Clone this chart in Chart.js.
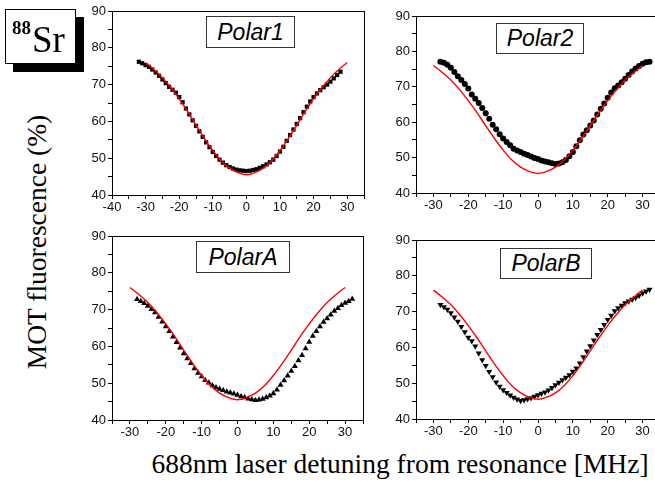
<!DOCTYPE html>
<html>
<head>
<meta charset="utf-8">
<script src="https://cdn.jsdelivr.net/npm/chart.js@4.4.0/dist/chart.umd.min.js"></script>
<style>
  html, body { margin:0; padding:0; background:#fff; }
  body { width:655px; height:484px; overflow:hidden; position:relative; }
  .cw { position:absolute; }
  canvas { display:block; }
  .lbl { position:absolute; border:1px solid #333; background:#fff; box-sizing:border-box;
         font-family:"Liberation Sans", Arial, sans-serif; font-style:italic; font-size:23px;
         color:#000; text-align:center; line-height:29px; }
  #sr { position:absolute; left:5px; top:9px; width:71px; height:55px; box-sizing:border-box;
        border:1px solid #000; background:#fff; box-shadow:8px 8px 0 #000;
        font-family:"Liberation Serif", "Times New Roman", serif; color:#000; }
  #sr .sup { position:absolute; left:6px; top:8px; font-size:19px; font-weight:bold; line-height:19px; }
  #sr .el { position:absolute; left:26px; top:10px; font-size:37px; line-height:40px; }
  #ytitle { position:absolute; left:37px; top:242px; transform:translate(-50%,-50%) rotate(-90deg);
            white-space:nowrap; font-family:"Liberation Serif", "Times New Roman", serif; font-size:27.5px; color:#000; }
  #xtitle { position:absolute; left:400px; top:449px; transform:translateX(-50%);
            white-space:nowrap; font-family:"Liberation Serif", "Times New Roman", serif; font-size:27.5px; color:#000; line-height:30px; }
</style>
</head>
<body>
<script>
// ---------------- data ----------------
const detuning1 = [-32,-31,-30,-29,-28,-27,-26,-25,-24,-23,-22,-21,-20,-19,-18,-17,-16,-15,-14,-13,-12,-11,-10,-9,-8,-7,-6,-5,-4,-3,-2,-1,0,1,2,3,4,5,6,7,8,9,10,11,12,13,14,15,16,17,18,19,20,21,22,23,24,25,26,27,28];
const polar1 = [76.2,75.8,75.3,74.8,74.1,73.3,72.4,71.4,70.4,69.4,68.6,67.8,66.6,65.2,63.5,61.9,60.3,58.8,57.3,55.8,54.3,53.0,51.7,50.6,49.6,48.8,48.1,47.6,47.2,46.9,46.7,46.6,46.5,46.6,46.8,47.0,47.4,47.8,48.3,48.9,49.6,50.6,51.8,53.1,54.7,56.3,57.8,59.3,60.9,62.5,64.0,65.4,66.6,67.6,68.5,69.3,70.0,70.8,71.7,72.6,73.5];

const detuning2 = [-28,-27,-26,-25,-24,-23,-22,-21,-20,-19,-18,-17,-16,-15,-14,-13,-12,-11,-10,-9,-8,-7,-6,-5,-4,-3,-2,-1,0,1,2,3,4,5,6,7,8,9,10,11,12,13,14,15,16,17,18,19,20,21,22,23,24,25,26,27,28,29,30,31,32];
const polar2 = [77.1,76.8,76.2,75.4,74.2,73.0,71.9,70.8,69.5,67.8,66.6,65.4,64.0,62.5,61.0,59.3,58.0,56.6,55.4,54.4,53.5,52.5,52.0,51.6,51.1,50.7,50.3,49.9,49.6,49.2,48.9,48.7,48.4,48.2,48.3,48.7,49.3,50.4,51.6,53.2,54.9,56.5,57.7,59.1,60.5,62.2,63.8,65.3,66.9,68.4,69.6,70.4,71.3,72.3,73.3,74.3,75.2,75.9,76.5,76.9,77.1];
const polarA = [72.8,72.3,71.7,71.0,70.1,69.2,68.0,66.7,65.4,64.1,62.6,61.1,59.6,58.1,56.7,55.4,54.0,52.8,51.8,50.8,50.1,49.4,48.8,48.4,48.1,47.7,47.4,47.1,46.8,46.4,46.1,45.8,45.6,45.4,45.5,45.7,46.1,46.6,47.2,48.2,49.5,50.7,52.0,53.3,54.6,56.2,57.6,59.4,61.2,62.8,64.1,65.4,66.6,67.6,68.6,69.6,70.4,71.2,71.8,72.3,72.9];
const polarB = [71.9,71.3,70.6,69.6,68.4,67.2,65.8,64.3,62.8,61.8,60.3,58.4,56.5,54.9,53.2,51.7,50.3,49.1,48.1,47.3,46.6,46.0,45.5,45.1,45.3,45.6,45.9,46.3,46.7,47.1,47.5,48.0,48.7,49.5,50.2,50.9,51.6,52.3,53.3,54.2,55.6,57.3,58.9,60.4,62.0,63.5,64.9,66.3,67.7,68.9,70.2,71.0,71.7,72.4,72.9,73.4,73.9,74.5,75.1,75.7,76.2];

// fitted curve (same in every panel)
const fitX = [-30,-27.5,-25,-22.5,-20,-17.5,-15,-12.5,-10,-7.5,-5,-2.5,0,2.5,5,7.5,10,12.5,15,17.5,20,22.5,25,27.5,30];
const fitY = [76.0,74.1,71.9,69.2,66.1,62.7,59.0,55.4,52.1,49.3,47.3,46.1,45.5,46.1,47.3,49.3,52.1,55.4,59.0,62.7,66.1,69.2,71.9,74.1,76.0];

const xTicksStep = 5;
const yMin = 40, yMax = 90;

// ---------------- drawing ----------------
function pts(xs, ys) { return xs.map((x, i) => ({ x: x, y: ys[i] })); }

const boxPlugin = {
  id: 'box',
  afterDraw(chart) {
    const a = chart.chartArea, c = chart.ctx;
    c.save();
    c.strokeStyle = '#000';
    c.lineWidth = 1;
    c.strokeRect(Math.round(a.left) + 0.5, Math.round(a.top) + 0.5,
                 Math.round(a.right - a.left), Math.round(a.bottom - a.top));
    c.restore();
  }
};

function makePanel(o) {
  const wrap = document.createElement('div');
  wrap.className = 'cw';
  wrap.style.left = o.left + 'px';
  wrap.style.top = o.top + 'px';
  wrap.style.width = o.w + 'px';
  wrap.style.height = o.h + 'px';
  const cv = document.createElement('canvas');
  cv.width = o.w; cv.height = o.h;
  cv.style.width = o.w + 'px'; cv.style.height = o.h + 'px';
  wrap.appendChild(cv);
  document.body.appendChild(wrap);

  const tickFont = { family: '"Liberation Sans", Arial, sans-serif', size: 13 };
  new Chart(cv, {
    type: 'scatter',
    data: {
      datasets: [
        { data: pts(fitX, fitY), showLine: true, borderColor: '#ff0000', borderWidth: 1.4,
          pointRadius: 0, cubicInterpolationMode: 'monotone', order: 0 },
        { data: pts(o.xs, o.ys), pointStyle: o.style, rotation: o.rot || 0,
          pointRadius: o.r, backgroundColor: '#000', borderColor: '#000', borderWidth: 0, order: 1 }
      ]
    },
    options: {
      responsive: false, animation: false, devicePixelRatio: 1,
      layout: { padding: { top: o.pt, right: o.pr, left: 0, bottom: 0 } },
      plugins: { legend: { display: false }, tooltip: { enabled: false } },
      scales: {
        x: {
          type: 'linear', min: o.xmin, max: o.xmax,
          border: { color: '#000', width: 1 },
          grid: { drawOnChartArea: false, drawTicks: true, tickLength: 4, color: '#000' },
          ticks: { stepSize: xTicksStep, autoSkip: false, maxRotation: 0, padding: 1, color: '#111', font: tickFont,
                   callback: v => (v % 10 === 0 ? String(v) : '') },
          afterFit: s => { s.height = o.xh; s.paddingLeft = 0; s.paddingRight = 0; }
        },
        y: {
          type: 'linear', min: yMin, max: yMax,
          border: { color: '#000', width: 1 },
          grid: { drawOnChartArea: false, drawTicks: true, tickLength: 4, color: '#000' },
          ticks: { stepSize: 5, autoSkip: false, padding: 2, color: '#111', font: tickFont,
                   callback: v => (v % 10 === 0 ? String(v) : '') },
          afterFit: s => { s.width = 32; s.paddingTop = 0; s.paddingBottom = 0; }
        }
      }
    },
    plugins: [boxPlugin]
  });
}

makePanel({ left: 80, top: 0, w: 300, h: 220, pt: 11, pr: 16, xh: 25, xmin: -40, xmax: 35,
            xs: detuning1, ys: polar1, style: 'rect', r: 3 });
makePanel({ left: 384, top: 0, w: 296, h: 220, pt: 16, pr: 20, xh: 27, xmin: -35, xmax: 35,
            xs: detuning2, ys: polar2, style: 'circle', r: 3 });
makePanel({ left: 80, top: 225, w: 300, h: 220, pt: 11, pr: 17, xh: 25, xmin: -35, xmax: 35,
            xs: detuning2, ys: polarA, style: 'triangle', r: 3.5 });
makePanel({ left: 384, top: 225, w: 296, h: 220, pt: 15, pr: 20, xh: 26, xmin: -35, xmax: 35,
            xs: detuning2, ys: polarB, style: 'triangle', rot: 180, r: 3.5 });

function addLabel(text, l, t, w, h) {
  const d = document.createElement('div');
  d.className = 'lbl';
  d.style.left = l + 'px'; d.style.top = t + 'px';
  d.style.width = w + 'px'; d.style.height = h + 'px';
  d.style.lineHeight = (h - 2) + 'px';
  d.textContent = text;
  document.body.appendChild(d);
}
addLabel('Polar1', 206, 16, 89, 32);
addLabel('Polar2', 496, 23, 88, 31);
addLabel('PolarA', 196, 241, 94, 32);
addLabel('PolarB', 500, 248, 92, 31);
</script>
<div id="sr"><span class="sup">88</span><span class="el">Sr</span></div>
<div id="ytitle">MOT fluorescence (%)</div>
<div id="xtitle">688nm laser detuning from resonance [MHz]</div>
</body>
</html>
